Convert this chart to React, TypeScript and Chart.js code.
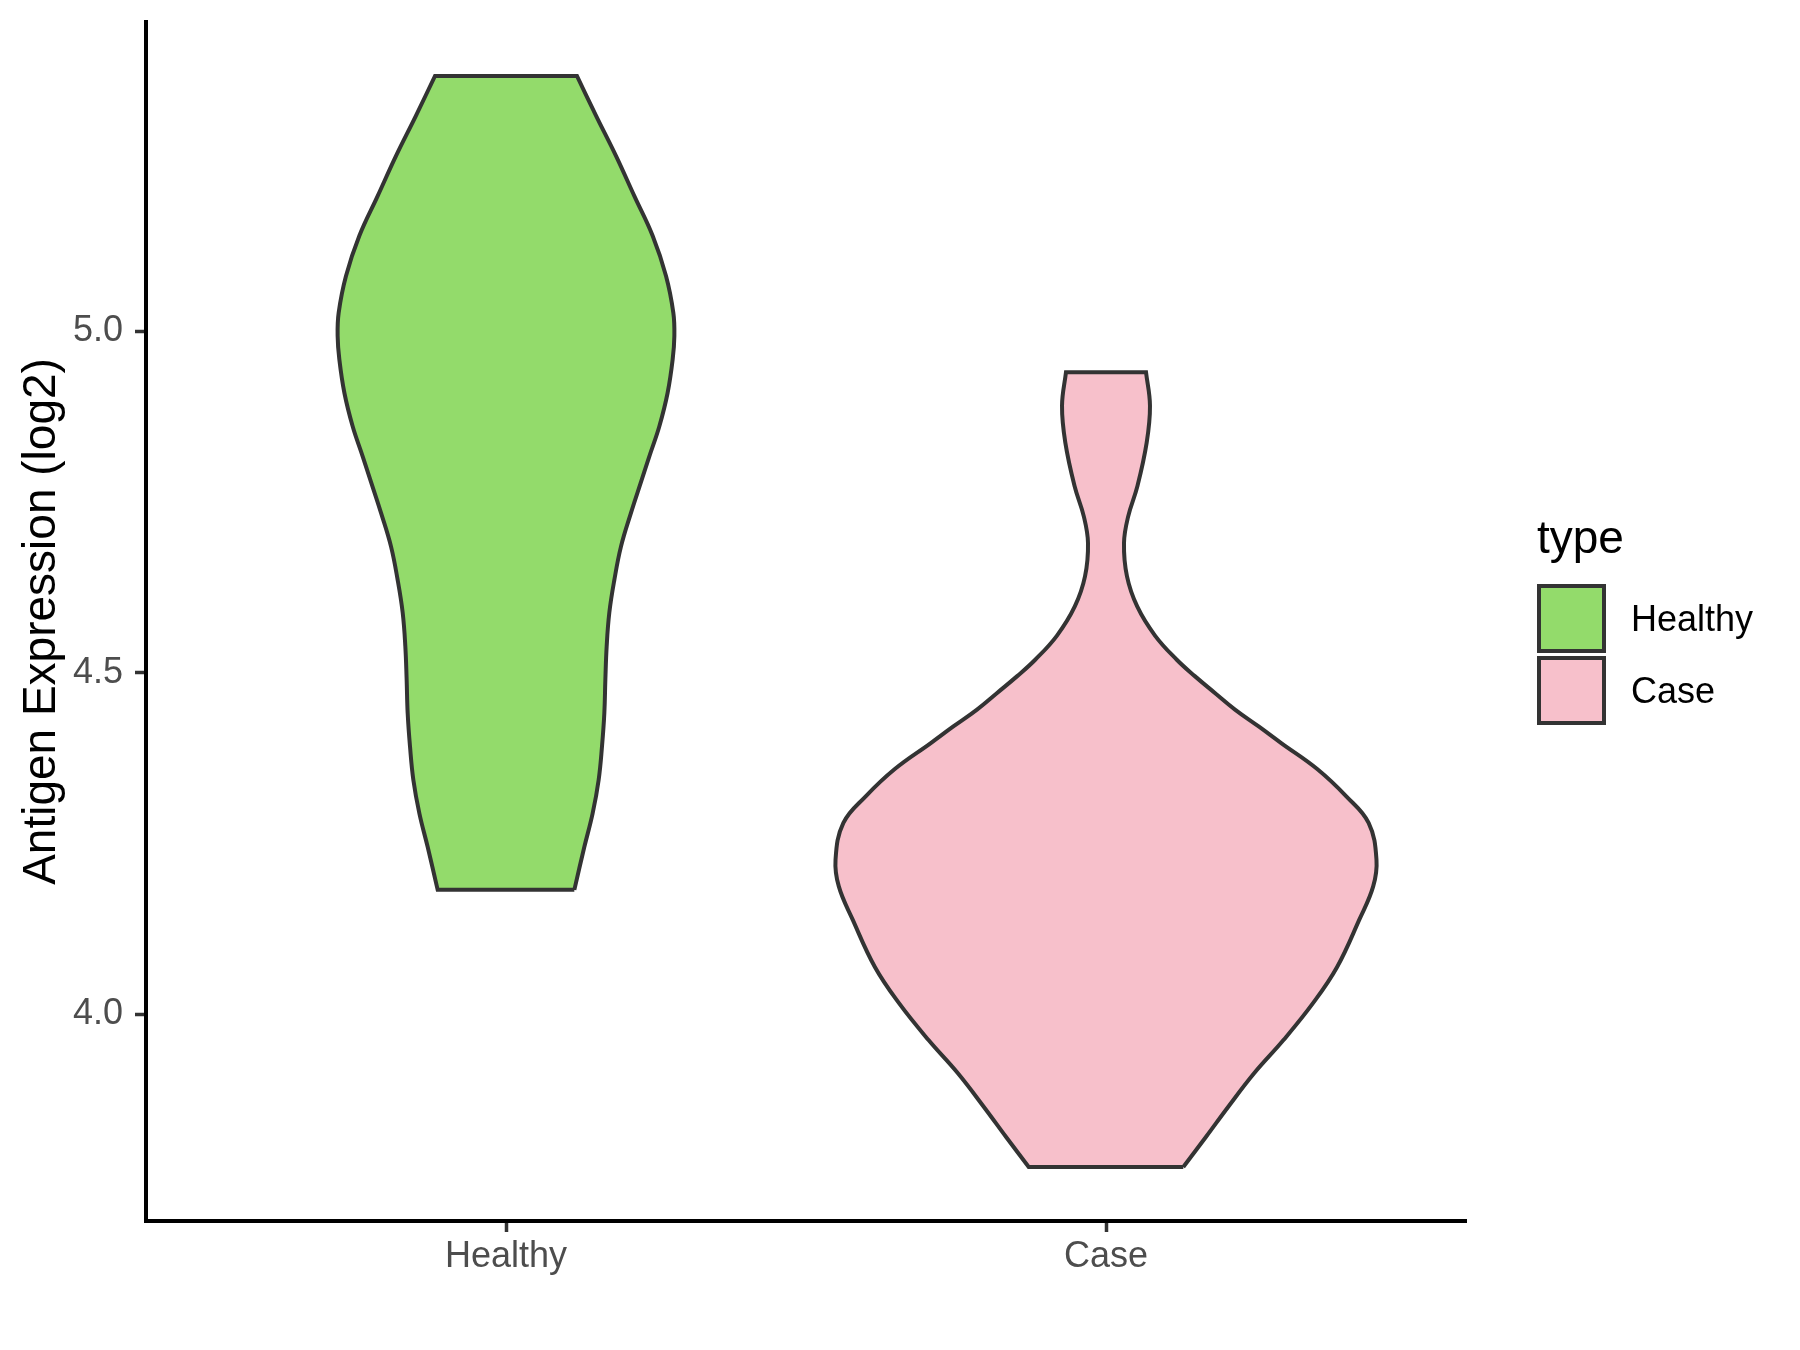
import React, { useEffect, useRef } from "react";
import { Chart, registerables } from "chart.js";

Chart.register(...registerables);

// ---- Data ----
const categories = ["Healthy", "Case"];
const fillColors = ["#93DB6B", "#F7C0CB"];
const outlineColor = "#333333";
const yTickValues = [4.0, 4.5, 5.0];
const yAxisTitle = "Antigen Expression (log2)";
const legendTitle = "type";

// Healthy violin: y (log2 expression) and half-width (in category units)
const healthyY = [
  4.182, 4.245, 4.294, 4.343, 4.392, 4.441, 4.49, 4.539, 4.588, 4.636, 4.685, 4.734, 4.783,
  4.817, 4.861, 4.91, 4.959, 4.993, 5.027, 5.081, 5.14, 5.198, 5.257, 5.316, 5.374,
];
const healthyHalfWidth = [
  0.1139, 0.1306, 0.1444, 0.1544, 0.16, 0.1639, 0.1656, 0.1678, 0.1722, 0.1806, 0.1917, 0.2083,
  0.2264, 0.2389, 0.2556, 0.2694, 0.2778, 0.2806, 0.2789, 0.2667, 0.2444, 0.214, 0.1833, 0.15,
  0.1183,
];

// Case violin
const caseY = [
  3.776, 3.82, 3.864, 3.913, 3.962, 4.016, 4.069, 4.138, 4.187, 4.226, 4.28, 4.319, 4.359,
  4.397, 4.421, 4.446, 4.47, 4.495, 4.519, 4.554, 4.597, 4.641, 4.69, 4.729, 4.773, 4.837,
  4.891, 4.94,
];
const caseHalfWidth = [
  0.1288, 0.1665, 0.2035, 0.2465, 0.2958, 0.345, 0.3852, 0.422, 0.4453, 0.4508, 0.4377, 0.4005,
  0.352, 0.292, 0.255, 0.215, 0.182, 0.148, 0.118, 0.082, 0.052, 0.035, 0.03, 0.037, 0.0523,
  0.0678, 0.0733, 0.0667,
];

const violinYs = [healthyY, caseY];
const violinWs = [healthyHalfWidth, caseHalfWidth];

const FONT = '"Liberation Sans", Arial, Helvetica, sans-serif';

// Build a closed outline from the symmetric half-widths (corners repeated so caps stay flat)
function violinOutline(center: number, ys: number[], ws: number[]) {
  const n = ys.length;
  const right = ys.map((y, i) => ({ x: center + ws[i], y }));
  const left = ys.map((y, i) => ({ x: center - ws[i], y })).reverse();
  const pts: { x: number; y: number }[] = [];
  right.forEach((p, i) => {
    pts.push(p);
    if (i === 0 || i === n - 1) pts.push({ ...p });
  });
  left.forEach((p, i) => {
    pts.push(p);
    if (i === 0 || i === n - 1) pts.push({ ...p });
  });
  pts.push({ ...right[0] });
  return pts;
}

const legendPlugin = {
  id: "violinLegend",
  afterDraw(chart: any) {
    const ctx = chart.ctx;
    ctx.save();
    ctx.textBaseline = "alphabetic";
    ctx.textAlign = "left";
    ctx.fillStyle = "#000000";
    ctx.font = `46px ${FONT}`;
    ctx.fillText(legendTitle, 1537, 553);
    categories.forEach((c, i) => {
      const top = 586 + i * 72;
      ctx.fillStyle = fillColors[i];
      ctx.fillRect(1539, top, 65, 65);
      ctx.strokeStyle = outlineColor;
      ctx.lineWidth = 4;
      ctx.lineJoin = "miter";
      ctx.strokeRect(1539, top, 65, 65);
      ctx.fillStyle = "#000000";
      ctx.font = `36px ${FONT}`;
      ctx.fillText(c, 1631, top + 32.5 + 12.9);
    });
    ctx.restore();
  },
};

export default function App() {
  const canvasRef = useRef<HTMLCanvasElement | null>(null);

  useEffect(() => {
    if (!canvasRef.current) return;
    Chart.defaults.font.family = FONT;

    const datasets = categories.map((c, i) => ({
      label: c,
      data: violinOutline(i + 1, violinYs[i], violinWs[i]),
      showLine: true,
      fill: "shape",
      backgroundColor: fillColors[i],
      borderColor: outlineColor,
      borderWidth: 4,
      borderJoinStyle: "miter",
      pointRadius: 0,
      pointHoverRadius: 0,
      tension: 0.4,
    }));

    const chart = new Chart(canvasRef.current, {
      type: "scatter",
      data: { datasets: datasets as any },
      plugins: [legendPlugin],
      options: {
        animation: false,
        responsive: false,
        devicePixelRatio: 1,
        events: [],
        layout: { padding: { left: 0, top: 22, right: 334, bottom: 0 } },
        plugins: {
          legend: { display: false },
          tooltip: { enabled: false },
        },
        scales: {
          x: {
            type: "linear",
            min: 0.4,
            max: 2.6,
            afterBuildTicks: (scale: any) => {
              scale.ticks = categories.map((_, i) => ({ value: i + 1 }));
            },
            afterFit: (scale: any) => {
              scale.height = 129;
              scale.paddingLeft = 0;
              scale.paddingRight = 0;
            },
            grid: {
              drawOnChartArea: false,
              drawTicks: true,
              tickLength: 11,
              tickColor: outlineColor,
              tickWidth: 3.5,
            },
            border: { display: true, color: "#000000", width: 4 },
            ticks: {
              autoSkip: false,
              maxRotation: 0,
              minRotation: 0,
              padding: 3,
              color: "#4D4D4D",
              font: { size: 36, family: FONT },
              callback: (v: any) => categories[Math.round(Number(v)) - 1] ?? "",
            },
          },
          y: {
            type: "linear",
            min: 3.697,
            max: 5.453,
            afterBuildTicks: (scale: any) => {
              scale.ticks = yTickValues.map((v) => ({ value: v }));
            },
            afterFit: (scale: any) => {
              scale.width = 146;
              scale.paddingTop = 0;
              scale.paddingBottom = 0;
            },
            grid: {
              drawOnChartArea: false,
              drawTicks: true,
              tickLength: 11,
              tickColor: outlineColor,
              tickWidth: 3.5,
            },
            border: { display: true, color: "#000000", width: 4 },
            ticks: {
              autoSkip: false,
              padding: 12,
              color: "#4D4D4D",
              font: { size: 36, family: FONT },
              callback: (v: any) => Number(v).toFixed(1),
            },
            title: {
              display: true,
              text: yAxisTitle,
              color: "#000000",
              font: { size: 46, family: FONT },
              padding: { top: 15, bottom: 0 },
            },
          },
        },
      } as any,
    });

    return () => chart.destroy();
  }, []);

  return (
    <div
      style={{
        position: "fixed",
        left: 0,
        top: 0,
        width: 1800,
        height: 1350,
        background: "#ffffff",
      }}
    >
      <canvas ref={canvasRef} width={1800} height={1350} style={{ width: 1800, height: 1350, display: "block" }} />
    </div>
  );
}
